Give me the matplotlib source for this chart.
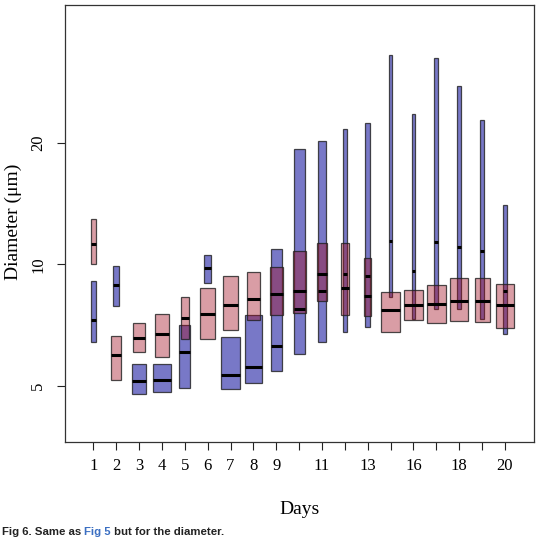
import matplotlib
matplotlib.use('Agg')
from matplotlib import pyplot as plt
from matplotlib.patches import Rectangle

# day positions and the labels R kept on the axis
pos = list(range(1, 20))
tick_labels = ['1', '2', '3', '4', '5', '6', '7', '8', '9', '', '11', '',
               '13', '', '16', '', '18', '', '20']

# blue series: lower edge, median, upper edge, box width
blue_lo  = [6.45, 7.89, 4.78, 4.83, 4.95, 8.99, 4.93, 5.10, 5.46, 5.99,
            6.43, 6.81, 7.02, 8.32, 7.33, 7.74, 7.74, 7.34, 6.73]
blue_med = [7.28, 8.92, 5.14, 5.17, 6.07, 9.79, 5.32, 5.58, 6.27, 7.78,
            8.62, 9.45, 9.36, 11.44, 9.66, 11.34, 11.06, 10.82, 8.62]
blue_hi  = [9.08, 9.94, 5.67, 5.69, 7.08, 10.53, 6.61, 7.51, 10.91, 19.25,
            20.18, 21.61, 22.33, 32.94, 23.50, 32.46, 27.67, 22.75, 14.05]
blue_w   = [0.21, 0.28, 0.60, 0.76, 0.48, 0.31, 0.82, 0.73, 0.48, 0.48,
            0.34, 0.15, 0.21, 0.16, 0.17, 0.17, 0.19, 0.21, 0.16]

# red series
red_lo  = [10.00, 5.17, 6.07, 5.90, 6.55, 6.55, 6.87, 7.28, 7.48, 7.57,
           8.12, 7.51, 7.47, 6.82, 7.29, 7.15, 7.26, 7.21, 6.97]
red_med = [11.21, 5.97, 6.59, 6.75, 7.38, 7.54, 7.95, 8.21, 8.44, 8.62,
           9.45, 8.77, 8.36, 7.71, 7.93, 7.99, 8.12, 8.10, 7.94]
red_hi  = [12.92, 6.65, 7.15, 7.55, 8.32, 8.74, 9.38, 9.57, 9.87, 10.77,
           11.32, 11.32, 10.39, 8.56, 8.66, 8.92, 9.28, 9.24, 8.96]
red_w   = [0.19, 0.42, 0.51, 0.63, 0.34, 0.63, 0.69, 0.56, 0.58, 0.56,
           0.47, 0.34, 0.32, 0.80, 0.79, 0.83, 0.77, 0.66, 0.79]

blue_fill = (0.0, 0.0, 0.59, 0.53)
red_fill = (0.63, 0.04, 0.12, 0.40)
edge = (0.12, 0.12, 0.12, 0.8)

plt.rcParams['font.family'] = ['Liberation Serif', 'DejaVu Serif']

fig = plt.figure(figsize=(5.56, 5.39), dpi=100)
ax = fig.add_axes([65 / 556, 1 - 442 / 539, 469 / 556, 437 / 539])


def draw_boxes(lo, med, hi, w, fill):
    for x, a, m, b, wd in zip(pos, lo, med, hi, w):
        ax.add_patch(Rectangle((x - wd / 2, a), wd, b - a, facecolor=fill,
                               edgecolor=edge, linewidth=0.9))
        ax.plot([x - wd / 2, x + wd / 2], [m, m], color='black', lw=2.2,
                solid_capstyle='butt')


draw_boxes(blue_lo, blue_med, blue_hi, blue_w, blue_fill)
draw_boxes(red_lo, red_med, red_hi, red_w, red_fill)

ax.set_yscale('log')
ax.set_ylim(3.64, 43.8)
ax.set_xlim(-0.24, 20.27)
ax.set_yticks([5, 10, 20])
ax.set_yticklabels(['5', '10', '20'], rotation=90, va='center')
ax.minorticks_off()
ax.set_xticks(pos)
ax.set_xticklabels(tick_labels)
ax.tick_params(direction='out', length=5.5, width=0.8, labelsize=12,
               color='#222222', pad=6)
ax.tick_params(axis='y', pad=8)
for s in ax.spines.values():
    s.set_color('#333333')
    s.set_linewidth(0.9)

fig.text(300 / 556, 1 - 510 / 539, 'Days', ha='center', va='center',
         fontsize=14)
fig.text(13 / 556, 1 - 222 / 539, 'Diameter (\u03bcm)', ha='center',
         va='center', rotation=90, fontsize=14)

# caption with the blue link text
cap_kw = dict(fontsize=8.2, fontweight='bold', va='center',
              family=['Liberation Sans', 'DejaVu Sans'])
yc = 1 - 532 / 539
fig.canvas.draw()
r = fig.canvas.get_renderer()
t1 = fig.text(2 / 556, yc, 'Fig 6. Same as ', color='#222222', **cap_kw)
x1 = t1.get_window_extent(r).x1
t2 = fig.text(x1 / 556, yc, 'Fig 5', color='#3b6fc2', **cap_kw)
x2 = t2.get_window_extent(r).x1
fig.text(x2 / 556, yc, ' but for the diameter.', color='#222222', **cap_kw)

fig.savefig('out.png', dpi=100)
